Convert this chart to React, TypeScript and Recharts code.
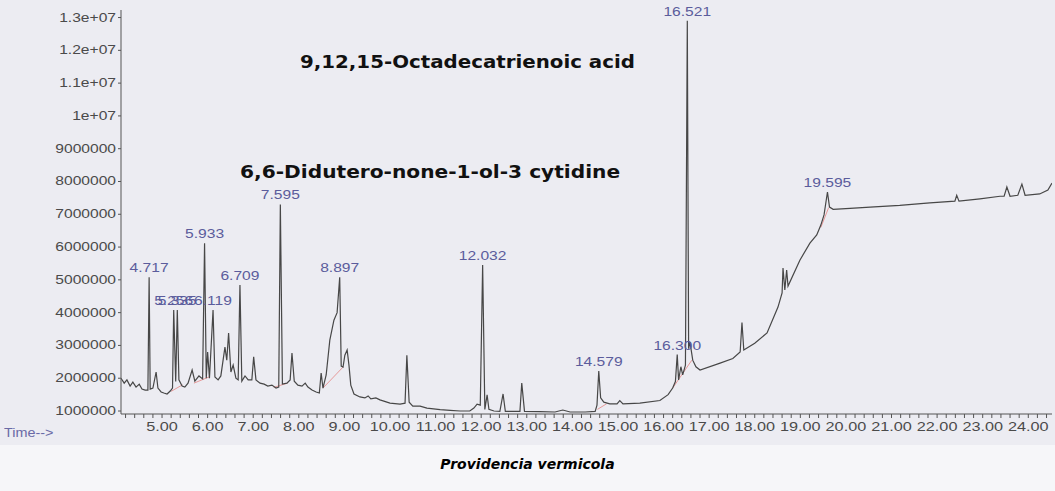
import React from 'react';
import { LineChart, Line, XAxis, YAxis } from 'recharts';

// retention time (min) and abundance of the total ion chromatogram
const traceTime = [
  4.10, 4.17, 4.23, 4.30, 4.36, 4.43, 4.50, 4.56, 4.63, 4.69, 4.717, 4.74, 4.80, 4.87, 4.91, 4.98,
  5.04, 5.11, 5.18, 5.23, 5.256, 5.30, 5.335, 5.37, 5.44, 5.50, 5.57, 5.66, 5.72, 5.81, 5.89, 5.933,
  5.97, 6.00, 6.04, 6.119, 6.16, 6.23, 6.29, 6.38, 6.42, 6.46, 6.51, 6.56, 6.62, 6.67, 6.709, 6.75,
  6.82, 6.89, 6.97, 7.01, 7.06, 7.15, 7.24, 7.32, 7.41, 7.50, 7.56, 7.595, 7.64, 7.74, 7.81, 7.85,
  7.90, 7.98, 8.07, 8.14, 8.20, 8.29, 8.38, 8.45, 8.49, 8.53, 8.60, 8.68, 8.77, 8.84, 8.897, 8.93,
  8.97, 9.01, 9.06, 9.10, 9.14, 9.21, 9.34, 9.45, 9.52, 9.58, 9.69, 9.78, 10.00, 10.22, 10.33, 10.37,
  10.42, 10.50, 10.66, 10.81, 11.10, 11.32, 11.54, 11.75, 11.84, 11.91, 11.98, 12.032, 12.08, 12.13, 12.17, 12.28,
  12.41, 12.48, 12.53, 12.74, 12.85, 12.89, 12.95, 13.29, 13.62, 13.79, 13.95, 14.28, 14.50, 14.54, 14.579, 14.62,
  14.69, 14.82, 14.98, 15.04, 15.11, 15.48, 15.92, 16.10, 16.20, 16.26, 16.300, 16.33, 16.38, 16.42, 16.48, 16.521,
  16.55, 16.58, 16.64, 16.71, 16.80, 17.24, 17.52, 17.68, 17.72, 17.76, 18.00, 18.27, 18.51, 18.60, 18.62, 18.66,
  18.70, 18.73, 18.99, 19.21, 19.36, 19.45, 19.52, 19.595, 19.64, 19.72, 20.09, 20.53, 21.18, 21.84, 22.39, 22.43,
  22.48, 22.94, 23.38, 23.47, 23.53, 23.60, 23.77, 23.86, 23.93, 24.25, 24.43, 24.52,
];
const traceAbundance = [
  2.00e6, 1.85e6, 1.95e6, 1.76e6, 1.88e6, 1.73e6, 1.82e6, 1.67e6, 1.64e6, 1.64e6, 5.08e6, 1.67e6, 1.70e6, 2.19e6, 1.70e6, 1.58e6,
  1.55e6, 1.52e6, 1.61e6, 1.70e6, 4.08e6, 1.90e6, 4.08e6, 1.95e6, 1.76e6, 1.73e6, 1.85e6, 2.25e6, 1.91e6, 2.07e6, 1.98e6, 6.12e6,
  2.00e6, 2.80e6, 2.00e6, 4.08e6, 2.04e6, 1.95e6, 2.07e6, 2.95e6, 2.55e6, 3.38e6, 2.19e6, 2.40e6, 2.00e6, 1.95e6, 4.84e6, 1.91e6,
  2.07e6, 1.95e6, 1.95e6, 2.65e6, 1.95e6, 1.85e6, 1.82e6, 1.76e6, 1.79e6, 1.70e6, 1.73e6, 7.30e6, 1.82e6, 1.85e6, 1.95e6, 2.77e6,
  1.91e6, 1.79e6, 1.76e6, 1.85e6, 1.73e6, 1.64e6, 1.58e6, 1.55e6, 2.16e6, 1.70e6, 2.10e6, 3.16e6, 3.77e6, 4.00e6, 5.08e6, 2.37e6,
  2.34e6, 2.70e6, 2.86e6, 2.40e6, 1.79e6, 1.52e6, 1.43e6, 1.40e6, 1.46e6, 1.37e6, 1.40e6, 1.34e6, 1.24e6, 1.21e6, 1.24e6, 2.70e6,
  1.27e6, 1.15e6, 1.15e6, 1.09e6, 1.04e6, 1.02e6, 1.00e6, 1.00e6, 1.09e6, 1.21e6, 1.18e6, 5.45e6, 1.05e6, 1.49e6, 1.05e6, 1.00e6,
  0.99e6, 1.52e6, 0.99e6, 0.99e6, 0.99e6, 1.85e6, 0.99e6, 0.98e6, 0.97e6, 1.03e6, 0.97e6, 0.97e6, 0.99e6, 1.18e6, 2.22e6, 1.40e6,
  1.27e6, 1.22e6, 1.22e6, 1.32e6, 1.22e6, 1.24e6, 1.32e6, 1.50e6, 1.70e6, 1.90e6, 2.72e6, 1.95e6, 2.35e6, 2.10e6, 2.40e6, 12.9e6,
  2.90e6, 3.10e6, 2.55e6, 2.35e6, 2.25e6, 2.46e6, 2.60e6, 2.80e6, 3.70e6, 2.86e6, 3.07e6, 3.38e6, 4.17e6, 4.60e6, 5.36e6, 4.69e6,
  5.30e6, 4.81e6, 5.60e6, 6.12e6, 6.37e6, 6.67e6, 6.98e6, 7.68e6, 7.22e6, 7.15e6, 7.18e6, 7.22e6, 7.27e6, 7.35e6, 7.40e6, 7.58e6,
  7.40e6, 7.47e6, 7.55e6, 7.55e6, 7.83e6, 7.55e6, 7.58e6, 7.92e6, 7.58e6, 7.62e6, 7.74e6, 7.95e6,
];

// labelled peaks
const peakTime = [4.717, 5.256, 5.335, 5.933, 6.119, 6.709, 7.595, 8.897, 12.032, 14.579, 16.300, 16.521, 19.595];
const peakAbundance = [5.08e6, 4.08e6, 4.08e6, 6.12e6, 4.08e6, 4.84e6, 7.30e6, 5.08e6, 5.45e6, 2.22e6, 2.72e6, 12.9e6, 7.68e6];
const peakLabel = ['4.717', '5.256', '5.335', '5.933', '6.119', '6.709', '7.595', '8.897', '12.032', '14.579', '16.300', '16.521', '19.595'];

// integration baselines (start / end of each)
const baseStartTime = [5.20, 5.70, 7.45, 8.53, 14.55, 16.20, 19.45];
const baseStartAbundance = [1.60e6, 1.85e6, 1.72e6, 1.70e6, 1.05e6, 1.70e6, 6.60e6];
const baseEndTime = [5.45, 6.05, 7.75, 8.97, 14.75, 16.62, 19.62];
const baseEndAbundance = [1.80e6, 2.05e6, 1.85e6, 2.34e6, 1.22e6, 2.55e6, 7.20e6];

const xLabels = [5, 6, 7, 8, 9, 10, 11, 12, 13, 14, 15, 16, 17, 18, 19, 20, 21, 22, 23, 24];
const yTicks = [1e6, 2e6, 3e6, 4e6, 5e6, 6e6, 7e6, 8e6, 9e6, 1e7, 1.1e7, 1.2e7, 1.3e7];

const trace = traceTime.map((t, i) => ({ t, v: traceAbundance[i] }));
const peaks = peakTime.map((t, i) => ({ t, v: peakAbundance[i] }));
const baselines = baseStartTime.map((t, i) => [
  { t, v: baseStartAbundance[i] },
  { t: baseEndTime[i], v: baseEndAbundance[i] },
]);

// minor ticks every 0.2 min, labels only on whole minutes
const xTicks: number[] = [];
for (let k = 21; k <= 122; k++) xTicks.push(Math.round(k * 20) / 100);

const FONT = '"Liberation Sans", Arial, sans-serif';
const TICK_COLOR = '#4a4a4a';

const fmtY = (v: number) => {
  if (v >= 1e7) {
    const m = v / 1e7;
    return `${Number.isInteger(m) ? m : m.toFixed(1)}e+07`;
  }
  return String(v);
};

const YTick = (props: any) => {
  const { x, y, payload } = props;
  return (
    <text x={x} y={y} dy={4} textAnchor="end" fill={TICK_COLOR} fontSize={12} fontFamily={FONT}
      transform={`translate(${x},0) scale(1.3,1) translate(${-x},0)`}>
      {fmtY(payload.value)}
    </text>
  );
};

const XTick = (props: any) => {
  const { x, y, payload } = props;
  const v = payload.value;
  if (!xLabels.some((l) => Math.abs(l - v) < 1e-6)) return <g />;
  return (
    <text x={x} y={y} dy={11} textAnchor="middle" fill={TICK_COLOR} fontSize={13} fontFamily={FONT}
      transform={`translate(${x},0) scale(1.25,1) translate(${-x},0)`}>
      {v.toFixed(2)}
    </text>
  );
};

const PeakLabel = (props: any) => {
  const { x, y, index } = props;
  return (
    <text x={x} y={y - 5} textAnchor="middle" fill="#5b5c9c" fontSize={13} fontFamily={FONT}
      transform={`translate(${x},0) scale(1.2,1) translate(${-x},0)`}>
      {peakLabel[index]}
    </text>
  );
};

const annot: React.CSSProperties = {
  position: 'absolute',
  fontFamily: '"DejaVu Sans", sans-serif',
  fontWeight: 'bold',
  fontSize: 18,
  color: '#111',
  whiteSpace: 'nowrap',
  lineHeight: 1,
  transformOrigin: 'left center',
};

export default function App() {
  return (
    <div style={{ position: 'absolute', left: 0, top: 0, width: 1055, height: 491, background: '#f6f6f9', overflow: 'hidden' }}>
      <div style={{ position: 'absolute', left: 0, top: 0, width: 1055, height: 445, background: '#ececf2' }} />
      <div style={{ position: 'absolute', left: 0, top: 0 }}>
        <LineChart width={1055} height={445} data={trace} margin={{ top: 10, right: 3, left: 0, bottom: 0 }}>
          <XAxis dataKey="t" type="number" domain={[4.1, 24.52]} ticks={xTicks} interval={0}
            tick={<XTick />} tickSize={4} height={31} allowDataOverflow stroke="#555" />
          <YAxis type="number" domain={[909000, 13230000]} ticks={yTicks} interval={0}
            tick={<YTick />} tickSize={3} width={121} allowDataOverflow stroke="#555" />
          {baselines.map((seg, i) => (
            <Line key={`b${i}`} data={seg} dataKey="v" stroke="#e79a9a" strokeWidth={1}
              dot={false} isAnimationActive={false} />
          ))}
          <Line dataKey="v" stroke="#474747" strokeWidth={1.2} dot={false} isAnimationActive={false} />
          <Line data={peaks} dataKey="v" stroke="none" dot={false} label={<PeakLabel />}
            isAnimationActive={false} />
        </LineChart>
      </div>
      <div style={{ ...annot, left: 300, top: 53, transform: 'scaleX(1.1)' }}>9,12,15-Octadecatrienoic acid</div>
      <div style={{ ...annot, left: 240, top: 163, transform: 'scaleX(1.12)' }}>6,6-Didutero-none-1-ol-3 cytidine</div>
      <div style={{
        position: 'absolute', left: 4, top: 426, fontFamily: FONT, fontSize: 12, color: '#6a6aa6',
        transform: 'scaleX(1.2)', transformOrigin: 'left center',
      }}>
        Time--&gt;
      </div>
      <div style={{
        position: 'absolute', left: 0, width: 1055, top: 456, textAlign: 'center',
        fontFamily: '"DejaVu Sans", sans-serif', fontWeight: 'bold', fontStyle: 'italic', fontSize: 14, color: '#000',
      }}>
        Providencia vermicola
      </div>
    </div>
  );
}
